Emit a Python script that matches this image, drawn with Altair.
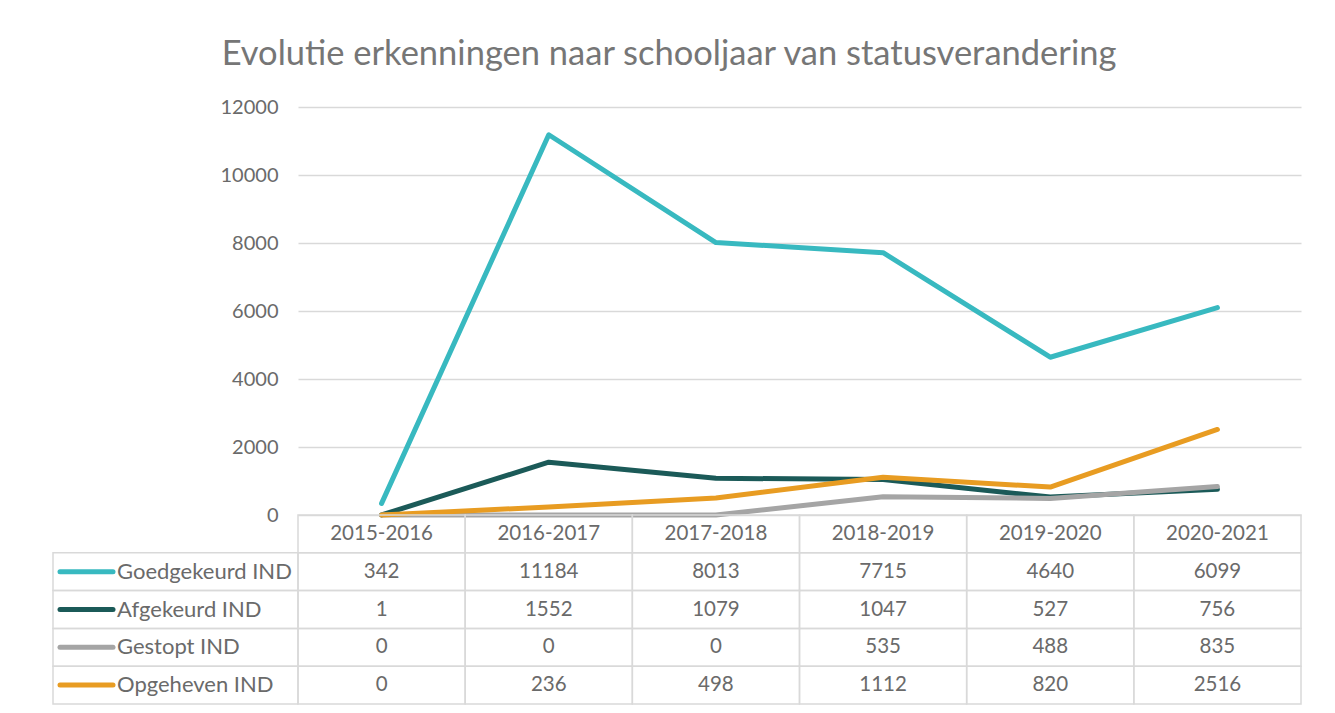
import altair as alt
import pandas as pd

jaren = ["2015-2016", "2016-2017", "2017-2018", "2018-2019", "2019-2020", "2020-2021"]
series = ["Goedgekeurd IND", "Afgekeurd IND", "Gestopt IND", "Opgeheven IND"]
goedgekeurd = [342, 11184, 8013, 7715, 4640, 6099]
afgekeurd = [1, 1552, 1079, 1047, 527, 756]
gestopt = [0, 0, 0, 535, 488, 835]
opgeheven = [0, 236, 498, 1112, 820, 2516]
kleuren = ["#38B9C0", "#1B5A58", "#A5A5A5", "#E89C22"]
y_ticks = [0, 2000, 4000, 6000, 8000, 10000, 12000]
titel = "Evolutie erkenningen naar schooljaar van statusverandering"

FONT = "Lato"
TXT = "#6a6a6a"
GRID = "#d9d9d9"
HEADER_KEY = "Schooljaar"

values = [goedgekeurd, afgekeurd, gestopt, opgeheven]
rows = []
for s, vals in zip(series, values):
    for j, v in zip(jaren, vals):
        rows.append({"Jaar": j, "Serie": s, "Waarde": v, "Tekst": str(v)})
df = pd.DataFrame(rows)

hdr = pd.DataFrame({"Jaar": jaren, "Serie": HEADER_KEY, "Waarde": 0, "Tekst": jaren})
table_df = pd.concat([hdr, df], ignore_index=True)
label_df = pd.DataFrame({"Serie": series})

PLOT_W = 1003
PLOT_H = 408
LABEL_W = 245
TABLE_H = 189

row_domain = [HEADER_KEY] + series

# ---------- line chart ----------
lines = alt.Chart(df).mark_line(strokeWidth=5, strokeCap="round", strokeJoin="round").encode(
    x=alt.X("Jaar:N", sort=jaren, scale=alt.Scale(type="point", domain=jaren, padding=0.5), axis=None),
    y=alt.Y("Waarde:Q", scale=alt.Scale(domain=[0, 12000], nice=False),
            axis=alt.Axis(values=y_ticks, grid=True, gridColor=GRID, gridWidth=1.5, domain=False,
                          ticks=False, labelFontSize=20, labelColor=TXT, labelFont=FONT,
                          labelPadding=20, title=None, format="d")),
    color=alt.Color("Serie:N", scale=alt.Scale(domain=series, range=kleuren), legend=None),
    order=alt.Order("serie_idx:Q"),
).transform_calculate(
    serie_idx="indexof(" + str(series) + ", datum.Serie)"
).properties(width=PLOT_W, height=PLOT_H)

# ---------- blank top-left ----------
blank = alt.Chart(label_df).mark_text(text="", opacity=0).encode(
    x=alt.value(0), y=alt.value(0)
).properties(width=LABEL_W, height=PLOT_H)

# ---------- label column ----------
ybase = alt.Y("Serie:N", scale=alt.Scale(domain=row_domain, paddingInner=0, paddingOuter=0), axis=None)
lab_cells = alt.Chart(label_df).mark_rect(fillOpacity=0, stroke=GRID, strokeWidth=1.5).encode(y=ybase)
lab_swatch = alt.Chart(label_df).mark_rule(strokeWidth=5, strokeCap="round").encode(
    y=ybase, x=alt.value(7), x2=alt.value(60),
    color=alt.Color("Serie:N", scale=alt.Scale(domain=series, range=kleuren), legend=None),
)
lab_text = alt.Chart(label_df).mark_text(align="left", baseline="middle", fontSize=22, font=FONT, color=TXT).encode(
    y=ybase, x=alt.value(64), text="Serie:N"
)
labels = alt.layer(lab_cells, lab_swatch, lab_text).properties(width=LABEL_W, height=TABLE_H)

# ---------- data table ----------
xt = alt.X("Jaar:N", scale=alt.Scale(domain=jaren, paddingInner=0, paddingOuter=0), axis=None)
cells = alt.Chart(table_df).mark_rect(fillOpacity=0, stroke=GRID, strokeWidth=1.5).encode(x=xt, y=ybase)
cell_text = alt.Chart(table_df).mark_text(align="center", baseline="middle", fontSize=20.5, font=FONT, color=TXT).encode(
    x=xt, y=ybase, text="Tekst:N"
)
table = alt.layer(cells, cell_text).properties(width=PLOT_W, height=TABLE_H)

chart = alt.concat(blank, lines, labels, table, columns=2, spacing=0).properties(
    title=alt.TitleParams(titel, fontSize=34.5, font=FONT, color="#767676", fontWeight="normal",
                          anchor="middle", offset=24.5, dx=-8),
    padding={"left": 44, "top": 29, "right": 20, "bottom": 5},
    bounds="flush",
    align="each",
).configure_view(stroke=None).configure_concat(spacing=0)

chart.save("out.html", embed_options={"renderer": "svg", "actions": False})
